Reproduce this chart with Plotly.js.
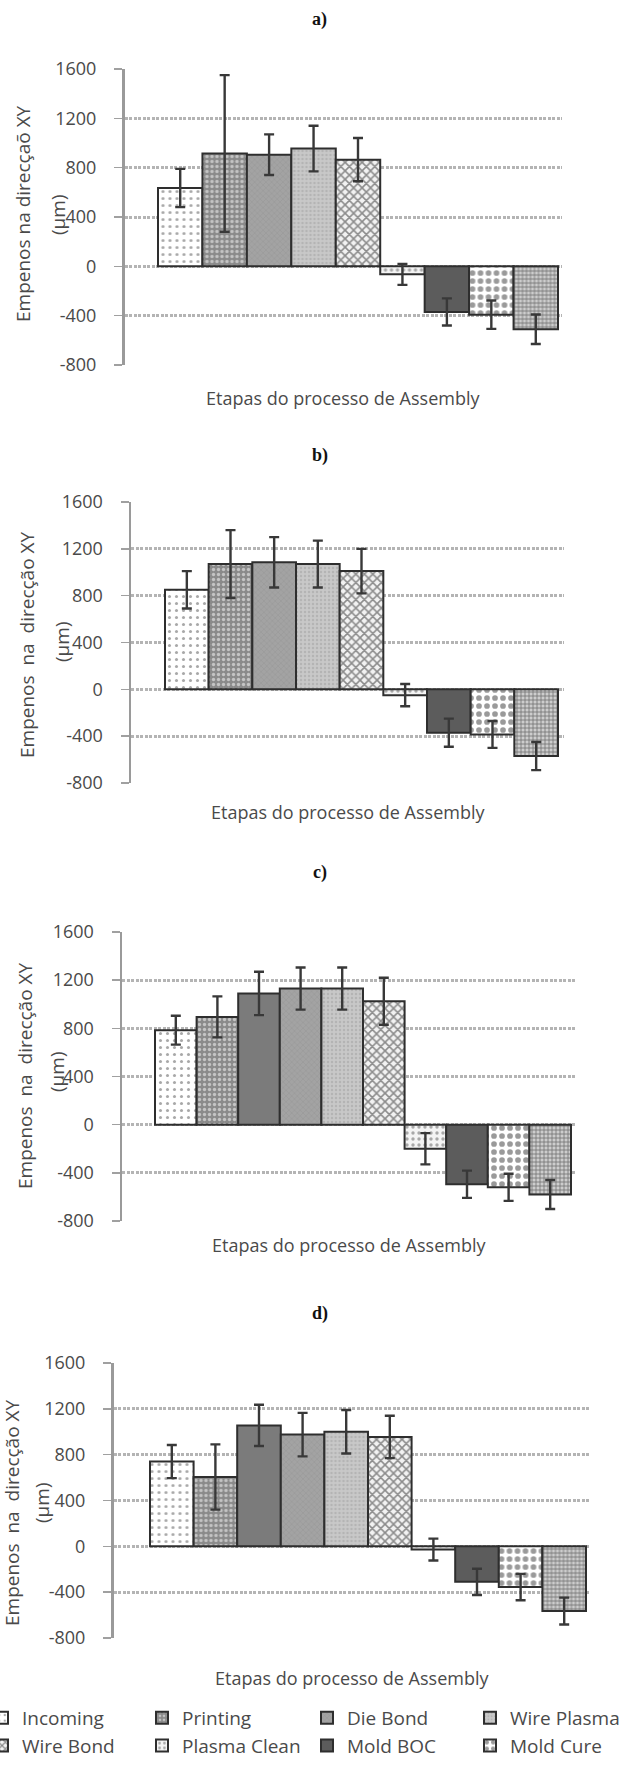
<!DOCTYPE html>
<html><head><meta charset="utf-8">
<script src="https://cdn.plot.ly/plotly-3.0.1.min.js"></script>
<style>html,body{margin:0;padding:0;background:#fff;} #chart{width:639px;height:1765px;}</style>
</head><body><div id="chart"></div>
<script>
// ---------------- data ----------------
const seriesNames = ['Incoming','Printing','','Die Bond','Wire Plasma','Wire Bond','Plasma Clean','Mold BOC','Mold Cure',''];
const panelLabels = ['a)','b)','c)','d)'];
const yTitleTexts = ['Empenos na direcçaõ XY','Empenos\u00a0 na\u00a0 direcção XY','Empenos\u00a0 na\u00a0 direcção XY','Empenos\u00a0 na\u00a0 direcção XY'];
const yUnitText = '(µm)';
const xTitleText = 'Etapas do processo de Assembly';
const yTickValues = [-800,-400,0,400,800,1200,1600];

const valuesA = [635, 915, null, 905, 955, 865, -65, -370, -392, -510];
const errorsA = [155, 635, null, 165, 185, 175, 85, 110, 115, 120];
const valuesB = [850, 1070, null, 1085, 1070, 1010, -50, -370, -385, -570];
const errorsB = [160, 290, null, 215, 200, 190, 95, 120, 115, 120];
const valuesC = [785, 895, 1090, 1130, 1130, 1025, -200, -495, -520, -580];
const errorsC = [120, 170, 180, 175, 175, 195, 130, 113, 113, 120];
const valuesD = [740, 605, 1055, 975, 1000, 955, -28, -310, -355, -565];
const errorsD = [145, 285, 180, 190, 190, 185, 95, 115, 115, 117];

const panelValues = [valuesA, valuesB, valuesC, valuesD];
const panelErrors = [errorsA, errorsB, errorsC, errorsD];

// ---------------- styles ----------------
const fills = [
  {bg:'#ffffff', fg:'#a8a8a8', shape:'.', size:7, sol:0.15},
  {bg:'#8a8a8a', fg:'#c4c4c4', shape:'.', size:5, sol:0.35},
  {bg:'#7b7b7b', fg:'#7b7b7b', shape:'', size:5, sol:0.3},
  {bg:'#a3a3a3', fg:'#929292', shape:'x', size:4, sol:0.2},
  {bg:'#c8c8c8', fg:'#b4b4b4', shape:'.', size:4, sol:0.3},
  {bg:'#f2f2f2', fg:'#8c8c8c', shape:'x', size:6, sol:0.45},
  {bg:'#f4f4f4', fg:'#a8a8a8', shape:'.', size:6, sol:0.25},
  {bg:'#5c5c5c', fg:'#5c5c5c', shape:'', size:5, sol:0.3},
  {bg:'#ffffff', fg:'#9a9a9a', shape:'.', size:8, sol:0.4},
  {bg:'#cdcdcd', fg:'#6e6e6e', shape:'+', size:4, sol:0.35}
];

const W = 639, H = 1765;
const px = x => x / W;
const py = y => 1 - y / H;

// panel geometry in page pixels
const geom = [
  {x0:124.5, x1:562, y0:69,  y1:365,  b0:158, b1:558, lab:20,   xt:398,  yt1:[23,214],  yt2:[58,215]},
  {x0:131,   x1:564, y0:502, y1:783,  b0:165, b1:558, lab:455,  xt:812,  yt1:[27,645],  yt2:[62,642]},
  {x0:122,   x1:575, y0:932, y1:1221, b0:155, b1:571, lab:872,  xt:1245, yt1:[25,1076], yt2:[57,1072]},
  {x0:113.5, x1:590, y0:1363,y1:1638, b0:150, b1:586, lab:1313, xt:1678, yt1:[12,1513], yt2:[42,1503]}
];

const textColor = '#4a4a4a';
const sansFont = 'Open Sans, DejaVu Sans, sans-serif';

const traces = [];
const layout = {
  width: W, height: H,
  margin: {l:0, r:0, t:0, b:0, autoexpand: false},
  paper_bgcolor: '#ffffff', plot_bgcolor: 'rgba(0,0,0,0)',
  barmode: 'overlay',
  showlegend: true,
  annotations: [],
  font: {family: sansFont, color: textColor}
};

const legendNames = seriesNames.filter(n => n !== '');
const legendIds = ['legend','legend2','legend3','legend4'];

panelValues.forEach((vals, pi) => {
  const g = geom[pi];
  const axN = pi === 0 ? '' : String(pi + 1);
  const xa = 'x' + axN, ya = 'y' + axN;
  const n = vals.filter(v => v !== null).length;
  const bw = (g.b1 - g.b0) / n;
  let pos = 0;
  vals.forEach((v, si) => {
    if (v === null) return;
    const f = fills[si];
    const name = seriesNames[si];
    const showLeg = (pi === 3) && name !== '';
    const tr = {
      type: 'bar', x: [pos], y: [v], width: 1,
      xaxis: xa, yaxis: ya,
      name: name,
      showlegend: showLeg,
      marker: {
        color: f.bg,
        line: {color: '#2e2e2e', width: 2},
        pattern: {shape: f.shape, bgcolor: f.bg, fgcolor: f.fg, size: f.size, solidity: f.sol, fillmode: 'replace'}
      },
      error_y: {type: 'data', array: [panelErrors[pi][si]], visible: true, color: '#383838', thickness: 2.4, width: 5},
      hoverinfo: 'skip'
    };
    if (showLeg) tr.legend = legendIds[legendNames.indexOf(name) % 4];
    traces.push(tr);
    pos++;
  });

  layout['xaxis' + axN] = {
    domain: [px(g.x0), px(g.x1)],
    range: [-0.5 - (g.b0 - g.x0) / bw, n - 0.5 + (g.x1 - g.b1) / bw],
    anchor: ya, showgrid: false, zeroline: false, showline: false,
    showticklabels: false, ticks: '', fixedrange: true
  };
  layout['yaxis' + axN] = {
    domain: [py(g.y1), py(g.y0)],
    range: [-800, 1600], anchor: xa,
    tickvals: yTickValues, ticktext: yTickValues.map(String),
    showgrid: true, gridcolor: '#b4b4b4', gridwidth: 3, griddash: '3px,1.5px',
    zeroline: false, showline: true, linecolor: '#9a9a9a', linewidth: 2.5,
    ticks: 'outside', ticklen: 8, tickcolor: '#a0a0a0', tickwidth: 1.5,
    ticklabelstandoff: 14,
    tickfont: {family: sansFont, size: 18, color: textColor},
    fixedrange: true
  };

  layout.annotations.push(
    {text: '<b>' + panelLabels[pi] + '</b>', xref:'paper', yref:'paper', x:0.5, y:py(g.lab),
     xanchor:'center', yanchor:'middle', showarrow:false,
     font:{family:'Liberation Serif, Times New Roman, serif', size:18, color:'#111'}},
    {text: xTitleText, xref:'paper', yref:'paper', x:px((g.x0 + g.x1) / 2), y:py(g.xt),
     xanchor:'center', yanchor:'middle', showarrow:false,
     font:{family:sansFont, size:18, color:textColor}},
    {text: yTitleTexts[pi], xref:'paper', yref:'paper', x:px(g.yt1[0]), y:py(g.yt1[1]),
     xanchor:'center', yanchor:'middle', showarrow:false, textangle:-90,
     font:{family:sansFont, size:19, color:textColor}},
    {text: yUnitText, xref:'paper', yref:'paper', x:px(g.yt2[0]), y:py(g.yt2[1]),
     xanchor:'center', yanchor:'middle', showarrow:false, textangle:-90,
     font:{family:sansFont, size:19, color:textColor}}
  );
});

const legendLeft = [-18, 142, 307, 470];
legendIds.forEach((id, k) => {
  layout[id] = {
    x: px(legendLeft[k]), xanchor: 'left', y: py(1699), yanchor: 'top',
    orientation: 'v', bgcolor: 'rgba(0,0,0,0)', borderwidth: 0,
    font: {family: sansFont, size: 19, color: textColor},
    tracegroupgap: 0, itemclick: false, itemdoubleclick: false
  };
});

Plotly.newPlot('chart', traces, layout, {displayModeBar: false, staticPlot: true});
</script>
</body></html>
